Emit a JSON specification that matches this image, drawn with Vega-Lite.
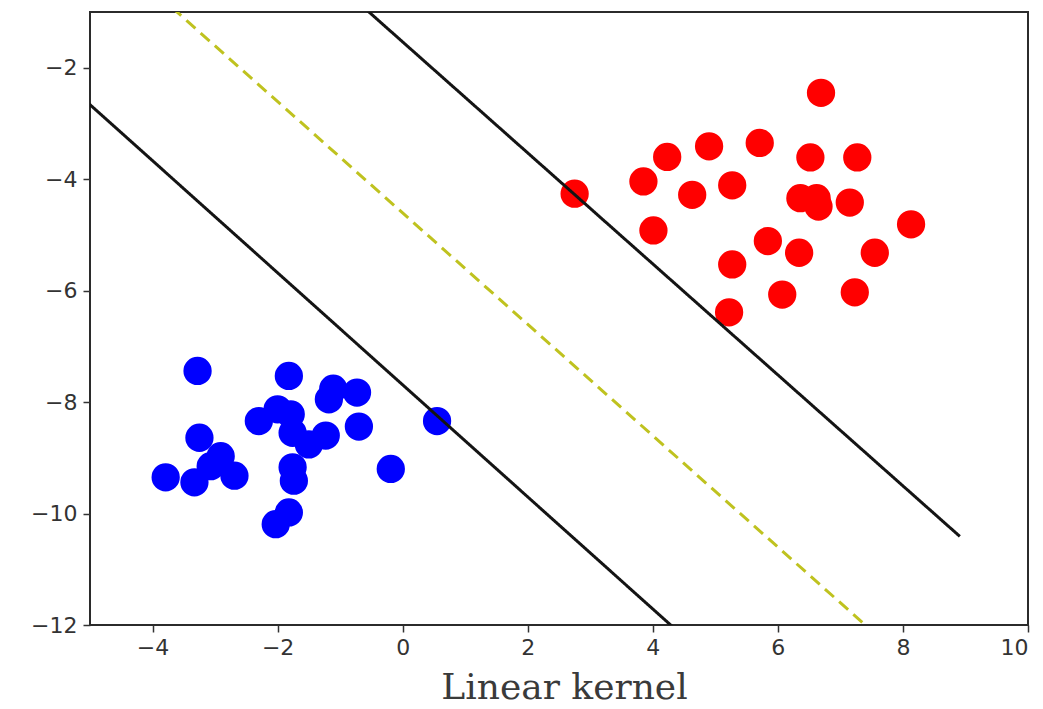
{
  "$schema": "https://vega.github.io/schema/vega-lite/v6.json",
  "width": 938,
  "height": 613,
  "autosize": {"type": "none"},
  "padding": {"left": 90, "top": 12, "right": 15, "bottom": 84},
  "background": "white",
  "config": {
    "view": {"stroke": "#2b2b2b", "strokeWidth": 2},
    "axis": {
      "grid": false,
      "domain": false,
      "tickColor": "#333333",
      "tickSize": 7,
      "tickWidth": 1.5,
      "labelFont": "DejaVu Sans",
      "labelFontSize": 22,
      "labelColor": "#333333",
      "labelPadding": 5,
      "labelExpr": "replace(format(datum.value, 'd'), '-', '\u2212')"
    }
  },
  "datasets": {
    "pts": [
      {"x": -3.28, "y": -7.44, "cls": "0"},
      {"x": -1.82, "y": -7.53, "cls": "0"},
      {"x": -1.11, "y": -7.76, "cls": "0"},
      {"x": -0.73, "y": -7.83, "cls": "0"},
      {"x": -1.18, "y": -7.95, "cls": "0"},
      {"x": -2.30, "y": -8.34, "cls": "0"},
      {"x": -2.00, "y": -8.13, "cls": "0"},
      {"x": -1.79, "y": -8.22, "cls": "0"},
      {"x": -0.70, "y": -8.44, "cls": "0"},
      {"x": 0.55, "y": -8.34, "cls": "0"},
      {"x": -1.76, "y": -8.55, "cls": "0"},
      {"x": -1.23, "y": -8.60, "cls": "0"},
      {"x": -1.50, "y": -8.76, "cls": "0"},
      {"x": -3.25, "y": -8.64, "cls": "0"},
      {"x": -2.91, "y": -8.97, "cls": "0"},
      {"x": -3.07, "y": -9.15, "cls": "0"},
      {"x": -2.69, "y": -9.32, "cls": "0"},
      {"x": -3.79, "y": -9.35, "cls": "0"},
      {"x": -3.33, "y": -9.44, "cls": "0"},
      {"x": -1.76, "y": -9.17, "cls": "0"},
      {"x": -1.74, "y": -9.41, "cls": "0"},
      {"x": -0.19, "y": -9.20, "cls": "0"},
      {"x": -1.82, "y": -9.98, "cls": "0"},
      {"x": -2.03, "y": -10.19, "cls": "0"},
      {"x": 6.69, "y": -2.45, "cls": "1"},
      {"x": 4.23, "y": -3.60, "cls": "1"},
      {"x": 4.90, "y": -3.41, "cls": "1"},
      {"x": 5.71, "y": -3.35, "cls": "1"},
      {"x": 6.52, "y": -3.61, "cls": "1"},
      {"x": 7.27, "y": -3.61, "cls": "1"},
      {"x": 3.85, "y": -4.04, "cls": "1"},
      {"x": 2.75, "y": -4.26, "cls": "1"},
      {"x": 4.63, "y": -4.28, "cls": "1"},
      {"x": 5.27, "y": -4.11, "cls": "1"},
      {"x": 6.36, "y": -4.34, "cls": "1"},
      {"x": 6.62, "y": -4.34, "cls": "1"},
      {"x": 6.65, "y": -4.49, "cls": "1"},
      {"x": 7.15, "y": -4.42, "cls": "1"},
      {"x": 4.01, "y": -4.92, "cls": "1"},
      {"x": 8.13, "y": -4.81, "cls": "1"},
      {"x": 5.84, "y": -5.11, "cls": "1"},
      {"x": 6.34, "y": -5.32, "cls": "1"},
      {"x": 7.55, "y": -5.32, "cls": "1"},
      {"x": 5.27, "y": -5.53, "cls": "1"},
      {"x": 6.07, "y": -6.07, "cls": "1"},
      {"x": 7.23, "y": -6.03, "cls": "1"},
      {"x": 5.22, "y": -6.39, "cls": "1"}
    ],
    "lines": [
      {"line": "lower", "x": -5.5, "y": -2.16},
      {"line": "lower", "x": 8.91, "y": -16.65},
      {"line": "upper", "x": -5.5, "y": 3.94},
      {"line": "upper", "x": 8.91, "y": -10.41},
      {"line": "decision", "x": -5.5, "y": 0.89},
      {"line": "decision", "x": 8.91, "y": -13.51}
    ]
  },
  "layer": [
    {
      "data": {"name": "pts"},
      "mark": {"type": "circle", "size": 800, "opacity": 1},
      "encoding": {
        "x": {"field": "x", "type": "quantitative", "scale": {"domain": [-5, 10], "nice": false, "zero": false}, "axis": {"values": [-4, -2, 0, 2, 4, 6, 8, 10], "title": "Linear kernel", "titleFont": "DejaVu Serif", "titleFontSize": 36, "titleFontWeight": "normal", "titleColor": "#3a3a3a", "titlePadding": 12, "titleX": 474}},
        "y": {"field": "y", "type": "quantitative", "scale": {"domain": [-12, -1], "nice": false, "zero": false}, "axis": {"values": [-12, -10, -8, -6, -4, -2], "title": null, "labelPadding": 6}},
        "color": {"field": "cls", "type": "nominal", "scale": {"domain": ["0", "1"], "range": ["#0000ff", "#ff0000"]}, "legend": null}
      }
    },
    {
      "data": {"name": "lines"},
      "mark": {"type": "line", "clip": true, "strokeWidth": 3},
      "encoding": {
        "x": {"field": "x", "type": "quantitative"},
        "y": {"field": "y", "type": "quantitative"},
        "detail": {"field": "line"},
        "color": {"field": "line", "type": "nominal", "scale": {"domain": ["lower", "upper", "decision"], "range": ["#141414", "#141414", "#bfc21f"]}, "legend": null},
        "strokeDash": {"field": "line", "type": "nominal", "scale": {"domain": ["lower", "upper", "decision"], "range": [[1, 0], [1, 0], [12, 7]]}, "legend": null}
      }
    }
  ],
  "resolve": {"scale": {"color": "independent"}}
}
